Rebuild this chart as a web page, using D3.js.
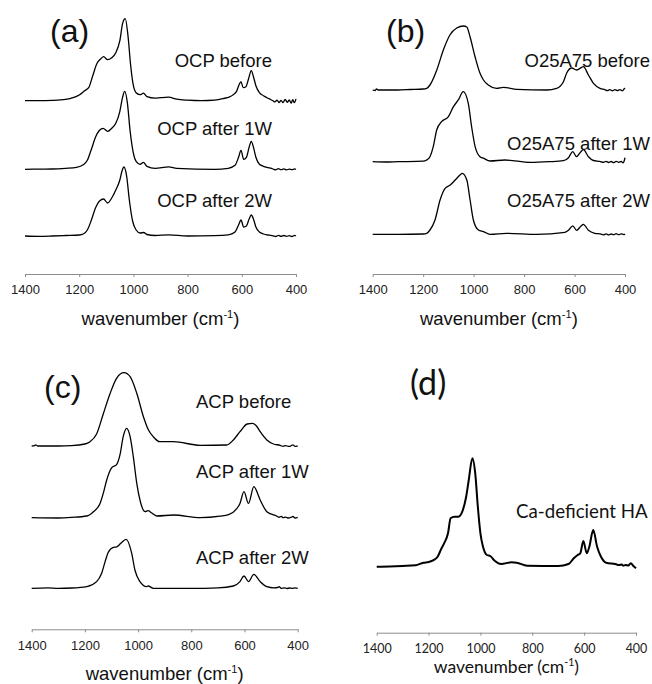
<!DOCTYPE html>
<html><head><meta charset="utf-8">
<script src="https://cdn.jsdelivr.net/npm/d3@7"></script>
<style>body{margin:0;background:#fff}svg{display:block}</style>
</head><body>
<svg id="c" width="652" height="684"></svg>
<script>
// ---------- DATA (wavenumber cm-1, absorbance a.u. above own baseline) ----------
const xTicks = [1400, 1200, 1000, 800, 600, 400];
const panelLabels = ["(a)", "(b)", "(c)", "(d)"];
const axisTitle = "wavenumber (cm";
const axisSup = "-1";

const ocpNames = ["OCP before", "OCP after 1W", "OCP after 2W"];
const ocpOffsets = [1.353, 0.667, 0];
const ocpBefore = [[1400,0],[1350,0],[1300,0.003],[1250,0.013],[1220,0.033],[1200,0.057],[1180,0.1],[1165,0.13],[1150,0.25],[1135,0.37],[1120,0.42],[1110,0.44],[1095,0.41],[1080,0.43],[1065,0.48],[1050,0.6],[1040,0.77],[1030,0.82],[1020,0.65],[1010,0.35],[1000,0.15],[990,0.08],[975,0.06],[963,0.075],[950,0.04],[920,0.025],[900,0.03],[870,0.035],[840,0.015],[800,0.005],[750,0],[700,0.005],[670,0.02],[640,0.045],[620,0.09],[610,0.16],[603,0.19],[595,0.13],[585,0.14],[575,0.22],[565,0.3],[557,0.24],[548,0.15],[535,0.08],[520,0.05],[500,0.02],[485,0],[478,-0.012],[470,0.006],[462,-0.018],[455,0.004],[448,-0.02],[440,0.012],[432,-0.016],[425,0.008],[418,-0.025],[412,0.01],[406,-0.02],[400,0.018]];
const ocp1W = [[1400,0],[1350,0.002],[1300,0.003],[1250,0.01],[1210,0.02],[1185,0.045],[1170,0.09],[1155,0.2],[1140,0.32],[1125,0.39],[1112,0.41],[1095,0.38],[1080,0.41],[1065,0.46],[1050,0.58],[1040,0.72],[1032,0.78],[1022,0.66],[1012,0.38],[1000,0.16],[990,0.08],[975,0.05],[963,0.07],[950,0.03],[920,0.01],[870,0.025],[840,0.01],[700,0],[650,0.01],[625,0.04],[612,0.12],[603,0.19],[593,0.1],[583,0.12],[573,0.22],[565,0.28],[557,0.22],[548,0.12],[535,0.05],[520,0.03],[500,0.015],[485,0.003],[475,-0.006],[465,0.006],[455,-0.004],[445,0.004],[435,-0.006],[425,0.002],[415,-0.004],[405,0.004],[400,-0.002]];
const ocp2W = [[1400,0],[1350,-0.003],[1300,0],[1250,0.005],[1200,0.01],[1185,0.02],[1170,0.06],[1155,0.16],[1140,0.28],[1125,0.35],[1110,0.37],[1095,0.33],[1080,0.38],[1065,0.46],[1050,0.56],[1042,0.65],[1035,0.69],[1025,0.6],[1015,0.36],[1003,0.15],[990,0.06],[975,0.03],[962,0.035],[950,0.015],[920,0.005],[870,0.012],[800,0],[700,0.003],[650,0.012],[625,0.04],[612,0.11],[603,0.16],[593,0.09],[583,0.1],[573,0.17],[565,0.21],[557,0.17],[548,0.09],[535,0.04],[520,0.02],[500,0.008],[485,0.002],[475,-0.005],[465,0.006],[455,-0.004],[445,0.005],[435,-0.003],[425,0.003],[415,-0.005],[405,0.006],[400,0]];

const oaNames = ["O25A75 before", "O25A75 after 1W", "O25A75 after 2W"];
const oaOffsets = [1.443, 0.726, 0];
const oaBefore = [[1400,0],[1390,-0.005],[1385,0.01],[1378,0],[1300,0],[1250,0.005],[1200,0.01],[1186,0.017],[1173,0.05],[1146,0.2],[1120,0.4],[1094,0.55],[1067,0.62],[1040,0.64],[1027,0.63],[1014,0.53],[994,0.33],[975,0.17],[961,0.1],[942,0.05],[909,0.017],[882,0.027],[829,0.007],[710,0],[671,0.017],[644,0.083],[631,0.17],[611,0.22],[592,0.2],[565,0.233],[545,0.15],[525,0.067],[499,0.017],[480,0.003],[470,-0.006],[460,0.004],[450,-0.008],[440,0.003],[430,-0.006],[420,0.004],[410,-0.008],[403,0.012],[400,0.02]];
const oa1W = [[1400,0],[1350,-0.003],[1300,0],[1200,0.005],[1186,0.017],[1173,0.05],[1160,0.15],[1146,0.32],[1127,0.4],[1100,0.45],[1080,0.55],[1060,0.62],[1041,0.7],[1021,0.58],[1008,0.35],[994,0.15],[975,0.05],[961,0.035],[935,0.007],[876,0.017],[776,-0.007],[700,0],[644,0.01],[624,0.04],[607,0.1],[592,0.05],[575,0.1],[565,0.12],[545,0.05],[525,0.012],[500,0.003],[485,-0.006],[475,0.004],[465,-0.008],[455,0.002],[445,-0.01],[435,0.004],[425,-0.006],[415,0.002],[408,-0.012],[403,0.01],[400,0.04]];
const oa2W = [[1400,0],[1300,0],[1200,0.003],[1186,0.01],[1173,0.043],[1153,0.143],[1133,0.343],[1113,0.46],[1094,0.49],[1074,0.54],[1054,0.593],[1045,0.61],[1027,0.543],[1014,0.343],[1001,0.143],[981,0.043],[961,0.027],[935,0],[870,0.01],[750,0],[638,0.02],[624,0.04],[607,0.085],[592,0.04],[575,0.08],[565,0.1],[545,0.04],[520,0.01],[495,0.002],[485,-0.005],[475,0.004],[465,-0.006],[455,0.003],[445,-0.004],[435,0.006],[425,-0.004],[415,0.005],[405,-0.003],[400,0.004]];

const acpNames = ["ACP before", "ACP after 1W", "ACP after 2W"];
const acpOffsets = [1.423, 0.706, 0];
const acpBefore = [[1400,0],[1390,0.003],[1385,0.012],[1378,0],[1300,0],[1250,0.003],[1200,0.02],[1181,0.043],[1156,0.12],[1131,0.32],[1106,0.52],[1081,0.677],[1053,0.733],[1030,0.693],[1005,0.527],[980,0.293],[961,0.16],[943,0.093],[918,0.043],[867,0.043],[767,0.007],[667,0.01],[642,0.06],[617,0.143],[590,0.22],[570,0.227],[555,0.2],[541,0.143],[516,0.06],[491,0.02],[466,0.007],[455,-0.003],[445,0.004],[435,-0.004],[425,0.002],[418,0.012],[410,-0.004],[400,0.002]];
const acp1W = [[1400,0],[1300,-0.003],[1250,0.003],[1193,0.017],[1168,0.06],[1143,0.143],[1131,0.243],[1118,0.377],[1099,0.5],[1081,0.53],[1068,0.63],[1056,0.81],[1043,0.893],[1030,0.81],[1018,0.61],[1005,0.343],[993,0.177],[974,0.06],[962,0.07],[950,0.05],[930,0.017],[867,0.027],[767,0],[692,0.015],[660,0.03],[629,0.09],[617,0.143],[602,0.26],[585,0.143],[565,0.31],[541,0.177],[516,0.06],[479,0.017],[470,0.004],[462,0.014],[455,0],[445,0.006],[435,-0.003],[425,0.004],[418,0.012],[410,-0.003],[400,0.003]];
const acp2W = [[1400,0],[1340,0.005],[1300,0],[1250,0.003],[1193,0.017],[1156,0.067],[1137,0.15],[1124,0.267],[1112,0.36],[1093,0.41],[1080,0.415],[1065,0.45],[1045,0.49],[1024,0.35],[1012,0.183],[993,0.067],[968,0.017],[962,0.023],[943,0],[800,0],[700,0.005],[642,0.023],[617,0.067],[602,0.123],[585,0.067],[565,0.14],[541,0.067],[516,0.017],[490,0.005],[475,0.008],[470,0.016],[462,0],[450,0.004],[440,-0.002],[430,0.003],[420,0],[410,0.004],[400,0]];

const hapName = "Ca-deficient HA";
const hapSpectrum = [[1400,-0.007],[1350,-0.005],[1300,0],[1250,0.007],[1220,0.033],[1200,0.04],[1185,0.053],[1165,0.093],[1150,0.177],[1140,0.227],[1125,0.327],[1115,0.477],[1100,0.493],[1085,0.493],[1070,0.543],[1055,0.693],[1045,0.86],[1031,1.077],[1020,0.927],[1010,0.593],[1000,0.327],[990,0.193],[975,0.11],[962,0.1],[945,0.053],[920,0.02],[880,0.037],[860,0.033],[820,0.003],[700,0],[660,0.02],[640,0.077],[625,0.11],[615,0.127],[603,0.25],[590,0.127],[580,0.193],[565,0.36],[550,0.193],[535,0.093],[515,0.033],[480,0.02],[465,0.01],[455,0.016],[450,0.003],[440,0.01],[430,0.004],[420,0.027],[410,0],[400,-0.023]];

// ---------- LAYOUT ----------
const svg = d3.select("#c");
const sans = "'Liberation Sans', Arial, sans-serif";
const cal = "Lato, 'Open Sans', sans-serif";

const panels = [
  {label: panelLabels[0], lx: 50, ly: 42, lfs: 32, x0: 25, x1: 296, axisY: 274, base: 236, titleY: 325,
   series: [ocpBefore, ocp1W, ocp2W], offsets: ocpOffsets, names: ocpNames,
   nameX: 272, anchor: "end", nameY: [66.5, 135, 206.5], stroke: 1.3, font: sans, tfs: 18.5, tickFs: 13, titleFs: 18.5},
  {label: panelLabels[1], lx: 386, ly: 42, lfs: 32, x0: 372.7, x1: 625, axisY: 274, base: 234.3, titleY: 325,
   series: [oaBefore, oa1W, oa2W], offsets: oaOffsets, names: oaNames,
   nameX: 650, anchor: "end", nameY: [67, 150, 206.5], stroke: 1.3, font: sans, tfs: 18.5, tickFs: 13, titleFs: 18.5},
  {label: panelLabels[2], lx: 44, ly: 398, lfs: 32, x0: 31.7, x1: 297.7, axisY: 629.3, base: 588.3, titleY: 680,
   series: [acpBefore, acp1W, acp2W], offsets: acpOffsets, names: acpNames,
   nameX: 196, anchor: "start", nameY: [408, 478, 564], stroke: 1.3, font: sans, tfs: 18.5, tickFs: 13, titleFs: 18.5},
  {label: panelLabels[3], lx: 410, ly: 395, lfs: 34, x0: 376.7, x1: 636, axisY: 632.7, base: 566, titleY: 673,
   series: [hapSpectrum], offsets: [0], names: [hapName],
   nameX: 516, anchor: "start", nameY: [518], stroke: 2, font: cal, tfs: 18.7, tickFs: 12.5, titleFs: 17.5}
];

panels.forEach(p => {
  const g = svg.append("g");
  const x = d3.scaleLinear().domain([1400, 400]).range([p.x0, p.x1]);
  const y = d3.scaleLinear().domain([0, 1]).range([p.base, p.base - 100]);

  const ax = g.append("g").attr("transform", `translate(0,${p.axisY})`)
    .call(d3.axisBottom(x).tickValues(xTicks).tickSize(3).tickSizeOuter(0).tickPadding(8).tickFormat(d3.format("d")));
  ax.select(".domain").attr("stroke", "#8c8c8c");
  ax.selectAll(".tick line").attr("stroke", "#8c8c8c");
  ax.selectAll(".tick text").attr("font-family", p.font).attr("font-size", p.tickFs).attr("fill", "#222");

  const t = g.append("text").attr("x", (p.x0 + p.x1) / 2).attr("y", p.titleY)
    .attr("text-anchor", "middle").attr("font-family", p.font).attr("font-size", p.titleFs).attr("fill", "#111");
  t.append("tspan").text(axisTitle);
  t.append("tspan").attr("font-size", p.titleFs * 0.6).attr("dy", -7).text(axisSup);
  t.append("tspan").attr("dy", 7).text(")");

  g.append("text").attr("x", p.lx).attr("y", p.ly).attr("font-family", p.font)
    .attr("font-size", p.lfs).attr("fill", "#111").text(p.label);

  const line = d3.line().x(d => x(d[0])).curve(d3.curveMonotoneX);
  p.series.forEach((s, i) => {
    line.y(d => y(d[1] + p.offsets[i]));
    g.append("path").datum(s).attr("d", line).attr("fill", "none")
      .attr("stroke", "#000").attr("stroke-width", p.stroke).attr("stroke-linejoin", "round");
    g.append("text").attr("x", p.nameX).attr("y", p.nameY[i]).attr("text-anchor", p.anchor)
      .attr("font-family", p.font).attr("font-size", p.tfs).attr("fill", "#111").text(p.names[i]);
  });
});
</script>
</body></html>
